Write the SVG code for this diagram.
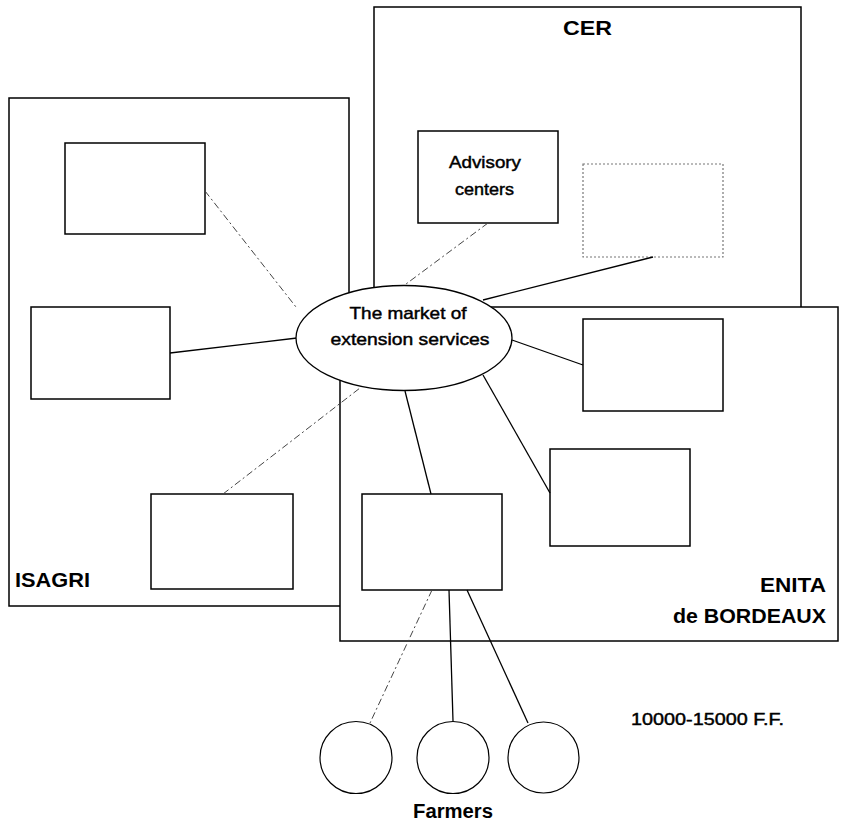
<svg xmlns="http://www.w3.org/2000/svg" width="841" height="828" viewBox="0 0 841 828">
<style>
.org{fill:#fff;stroke:#000;stroke-width:1.5}
.box{fill:#fff;stroke:#000;stroke-width:1.5}
.dot{fill:#fff;stroke:#777;stroke-width:1.2;stroke-dasharray:2,2}
.c{fill:none;stroke:#000;stroke-width:1.3}
.f{fill:none;stroke:#444;stroke-width:1;stroke-dasharray:7,3,2,3}
.farm{fill:#fff;stroke:#000;stroke-width:1.2}
.lbl{font-family:"Liberation Sans",Arial,sans-serif;font-weight:bold;font-size:20px;fill:#000}
.txt{font-family:"Liberation Sans",Arial,sans-serif;font-size:17px;fill:#000;stroke:#000;stroke-width:0.45}
</style>
<rect width="841" height="828" fill="#fff"/>
<g id="isagri"><rect class="org" x="9" y="98" width="340" height="508"/><text class="lbl" x="15" y="587" textLength="75" lengthAdjust="spacingAndGlyphs">ISAGRI</text></g>
<g id="cer"><rect class="org" x="374" y="7" width="427" height="320"/><text class="lbl" x="587.5" y="35" text-anchor="middle" textLength="49" lengthAdjust="spacingAndGlyphs">CER</text></g>
<g id="enita"><rect class="org" x="340" y="307" width="498" height="334"/><text class="lbl" x="826" y="592" text-anchor="end" textLength="66" lengthAdjust="spacingAndGlyphs">ENITA</text><text class="lbl" x="826" y="623" text-anchor="end" textLength="153" lengthAdjust="spacingAndGlyphs">de BORDEAUX</text></g>
<g id="isagri-1"><rect class="box" x="65" y="143" width="140" height="91"/></g>
<g id="isagri-2"><rect class="box" x="31" y="307" width="139" height="92"/></g>
<g id="isagri-3"><rect class="box" x="151" y="494" width="142" height="95"/></g>
<g id="advisory"><rect class="box" x="418" y="131" width="140" height="92"/><text class="txt" x="485" y="168" text-anchor="middle" textLength="72" lengthAdjust="spacingAndGlyphs">Advisory</text><text class="txt" x="484.5" y="195" text-anchor="middle" textLength="59" lengthAdjust="spacingAndGlyphs">centers</text></g>
<g id="cer-2"><rect class="dot" x="583" y="164" width="140" height="93"/></g>
<g id="enita-1"><rect class="box" x="583" y="319" width="140" height="92"/></g>
<g id="enita-2"><rect class="box" x="550" y="449" width="140" height="97"/></g>
<g id="enita-3"><rect class="box" x="362" y="494" width="140" height="96"/></g>
<g id="connectors">
<line class="f" x1="205" y1="191" x2="296" y2="307"/>
<line class="c" x1="170" y1="353" x2="297" y2="338"/>
<line class="f" x1="223" y1="494" x2="360" y2="388"/>
<line class="f" x1="488" y1="223" x2="402" y2="287"/>
<line class="c" x1="653" y1="257" x2="483" y2="300"/>
<line class="c" x1="583" y1="365" x2="512" y2="340"/>
<line class="c" x1="550" y1="493" x2="483" y2="375"/>
<line class="c" x1="405" y1="391" x2="431" y2="494"/>
<line class="f" x1="432" y1="590" x2="370" y2="723"/>
<line class="c" x1="449" y1="590" x2="453" y2="721"/>
<line class="c" x1="467" y1="590" x2="528" y2="723"/>
</g>
<g id="market"><ellipse cx="404" cy="338" rx="108" ry="52.5" fill="#fff" stroke="#000" stroke-width="1.3"/><text class="txt" x="408" y="319" text-anchor="middle" textLength="117" lengthAdjust="spacingAndGlyphs">The market of</text><text class="txt" x="410" y="345" text-anchor="middle" textLength="159" lengthAdjust="spacingAndGlyphs">extension services</text></g>
<g id="farmer-1"><circle class="farm" cx="356" cy="757.5" r="36"/></g>
<g id="farmer-2"><circle class="farm" cx="453" cy="757.5" r="36"/></g>
<g id="farmer-3"><circle class="farm" cx="543.5" cy="757.5" r="35.5"/></g>
<g id="farmers-label"><text class="lbl" x="453" y="818" text-anchor="middle" textLength="80" lengthAdjust="spacingAndGlyphs">Farmers</text></g>
<g id="price"><text class="txt" x="631" y="725" textLength="153" lengthAdjust="spacingAndGlyphs">10000-15000 F.F.</text></g>
</svg>
